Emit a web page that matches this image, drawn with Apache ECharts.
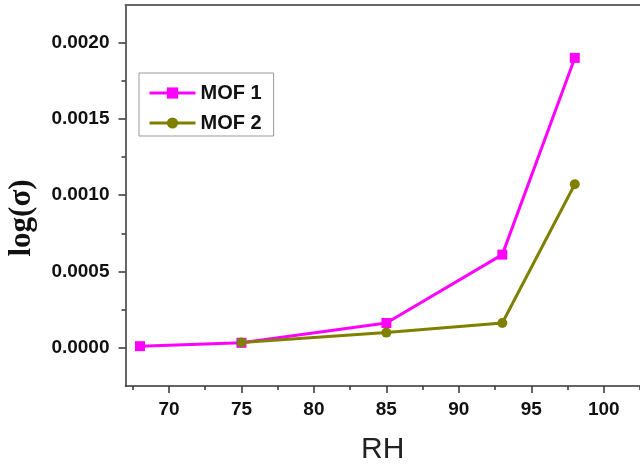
<!DOCTYPE html>
<html>
<head>
<meta charset="utf-8">
<script src="https://cdn.jsdelivr.net/npm/echarts@6/dist/echarts.min.js"></script>
<style>
html,body{margin:0;padding:0;background:#fff;}
#chart{width:640px;height:470px;}
</style>
</head>
<body>
<div id="chart"></div>
<script>
const rh1 = [68, 75, 85, 93, 98];
const mof1 = [0.000011, 0.000033, 0.000163, 0.000611, 0.0019];
const rh2 = [75, 85, 93, 98];
const mof2 = [0.000035, 0.0001, 0.000163, 0.001072];
const xTicks = [70, 75, 80, 85, 90, 95, 100];
const xMinorTicks = [67.5, 72.5, 77.5, 82.5, 87.5, 92.5, 97.5, 102.5];
const yTicks = [0, 0.0005, 0.001, 0.0015, 0.002];
const yMinorTicks = [0.00025, 0.00075, 0.00125, 0.00175];
const seriesNames = ['MOF 1', 'MOF 2'];

const X_MIN = 67, X_MAX = 102.5, Y_MIN = -0.00025, Y_MAX = 0.00225;
const axisColor = '#333';
const labelFont = 'Liberation Sans, Arial, sans-serif';

const chart = echarts.init(document.getElementById('chart'));
chart.setOption({
  animation: false,
  backgroundColor: '#fff',
  grid: { left: 125.5, top: 4.5, right: -2.5, bottom: 82.5, containLabel: false },
  legend: {
    orient: 'vertical',
    left: 139, top: 73,
    data: seriesNames,
    itemWidth: 46, itemHeight: 14, itemGap: 10,
    padding: [10, 12, 3, 9],
    borderColor: '#999', borderWidth: 1,
    lineStyle: { width: 3 },
    textStyle: { fontFamily: labelFont, fontWeight: 'bold', fontSize: 20, color: '#111' }
  },
  graphic: [{
    type: 'text',
    x: 22, y: 218,
    rotation: Math.PI / 2,
    style: {
      text: 'log(σ)',
      font: 'bold 31px "Liberation Serif", "Times New Roman", serif',
      fill: '#111',
      textAlign: 'center',
      textVerticalAlign: 'middle'
    }
  }],
  xAxis: [
    {
      type: 'value', min: X_MIN, max: X_MAX, position: 'bottom',
      splitLine: { show: false },
      axisLine: { onZero: false, lineStyle: { color: axisColor, width: 1.5 } },
      axisTick: { customValues: xTicks, length: 7, lineStyle: { color: axisColor, width: 1.5 } },
      axisLabel: { customValues: xTicks, margin: 14, fontFamily: labelFont, fontWeight: 'bold', fontSize: 19, color: '#111' },
      name: 'RH', nameLocation: 'middle', nameGap: 49,
      nameTextStyle: { fontFamily: labelFont, fontSize: 30, color: '#222' }
    },
    {
      type: 'value', min: X_MIN, max: X_MAX, position: 'bottom',
      splitLine: { show: false },
      axisLine: { show: false, onZero: false },
      axisTick: { customValues: xMinorTicks, length: 4, lineStyle: { color: axisColor, width: 1.5 } },
      axisLabel: { show: false }
    },
    {
      type: 'value', min: X_MIN, max: X_MAX, position: 'top',
      splitLine: { show: false },
      axisLine: { onZero: false, lineStyle: { color: '#666', width: 2 } },
      axisTick: { show: false },
      axisLabel: { show: false }
    }
  ],
  yAxis: [
    {
      type: 'value', min: Y_MIN, max: Y_MAX, position: 'left',
      splitLine: { show: false },
      axisLine: { show: true, onZero: false, lineStyle: { color: axisColor, width: 1.5 } },
      axisTick: { show: true, customValues: yTicks, length: 7, lineStyle: { color: axisColor, width: 1.5 } },
      axisLabel: { customValues: yTicks, margin: 16, fontFamily: labelFont, fontWeight: 'bold', fontSize: 19, color: '#111',
        formatter: v => Number(v).toFixed(4) }
    },
    {
      type: 'value', min: Y_MIN, max: Y_MAX, position: 'left',
      splitLine: { show: false },
      axisLine: { show: false, onZero: false },
      axisTick: { show: true, customValues: yMinorTicks, length: 4, lineStyle: { color: axisColor, width: 1.5 } },
      axisLabel: { show: false }
    }
  ],
  series: [
    {
      name: seriesNames[0], type: 'line',
      data: rh1.map((x, i) => [x, mof1[i]]),
      symbol: 'rect', symbolSize: 10,
      itemStyle: { color: '#FF00FF' },
      lineStyle: { color: '#FF00FF', width: 3 }
    },
    {
      name: seriesNames[1], type: 'line',
      data: rh2.map((x, i) => [x, mof2[i]]),
      symbol: 'circle', symbolSize: 10,
      itemStyle: { color: '#808000' },
      lineStyle: { color: '#808000', width: 3 }
    }
  ]
});
</script>
</body>
</html>
